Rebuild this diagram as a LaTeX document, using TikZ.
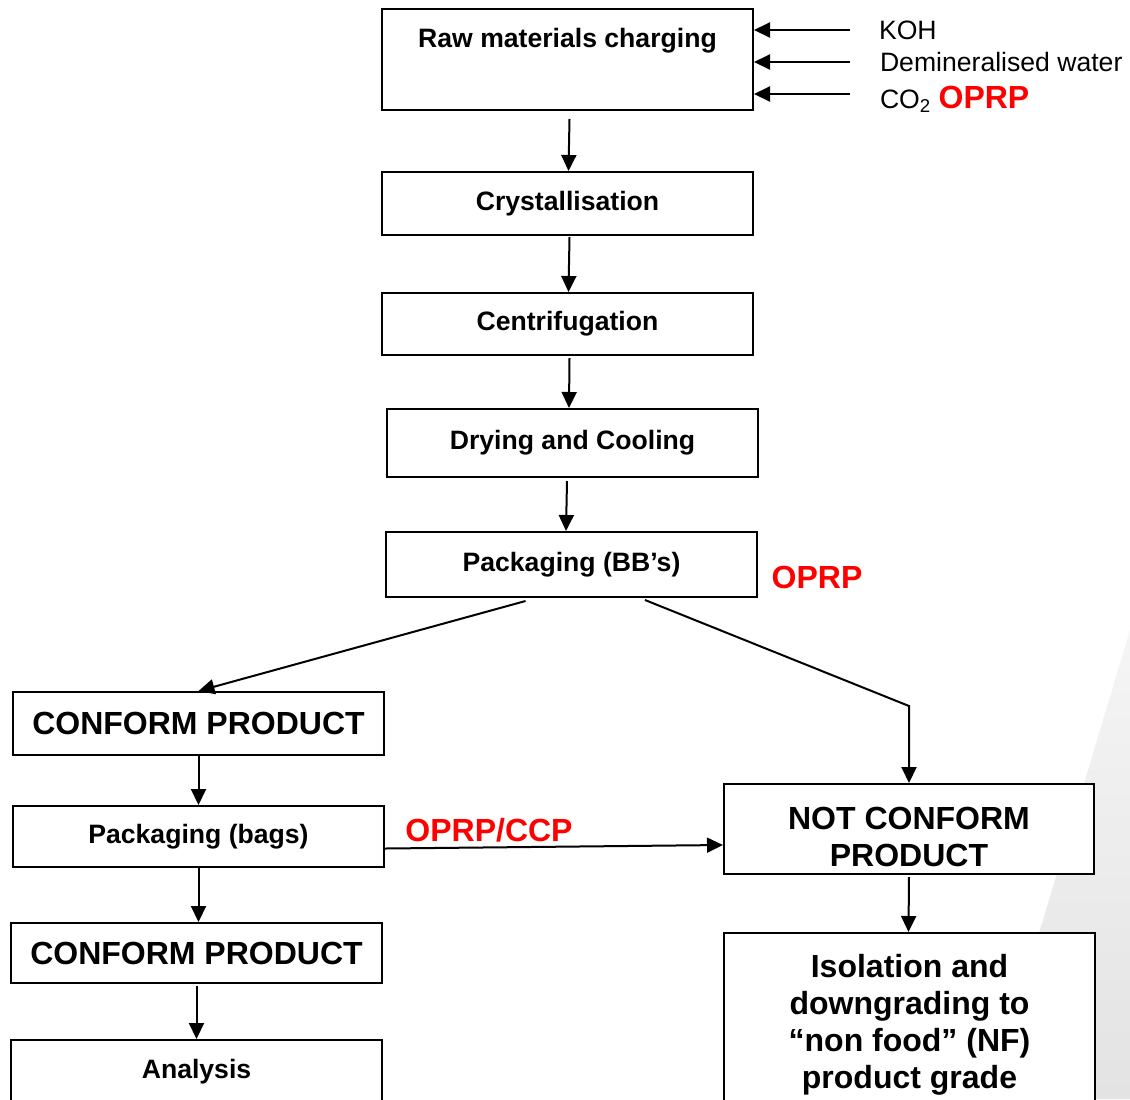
\documentclass[tikz,border=0pt]{standalone}
\usepackage{fontspec}
\setmainfont{Liberation Sans}
\usetikzlibrary{arrows.meta}

\definecolor{oprp}{RGB}{255,0,0}
\tikzset{
	box/.style={draw, fill=white, line width=1pt, inner sep=0pt, align=center, minimum width=185.5pt, font=\fontsize{13.3}{16}\selectfont\bfseries},
	bigbox/.style={box, font=\fontsize{16}{18.5}\selectfont\bfseries},
	flag/.style={text=oprp, inner sep=0pt, font=\fontsize{16}{18}\selectfont\bfseries},
	feed/.style={anchor=base west, inner sep=0pt, font=\fontsize{13.3}{16}\selectfont},
}

\begin{document}
\begin{tikzpicture}[x=0.5pt, y=-0.5pt, line width=1pt, arrows={-Triangle[length=8pt,width=7.5pt]}]
	\useasboundingbox (0,0) rectangle (1130,1099);
	\clip (0,0) rectangle (1130,1099);
	\shade[top color=black!4, middle color=black!10, bottom color=black!11] (1130,630) -- (1040,930) -- (990,1099) -- (1130,1099) -- cycle;

	\node [box, text height=19.25pt, text depth=31.25pt] (raw) at (567.5,59.5) {Raw materials charging};
	\node [box, minimum height=31.5pt] (cryst) at (567.5,203.5) {Crystallisation};
	\node [box, minimum height=31pt] (centr) at (567.5,324) {Centrifugation};
	\node [box, minimum height=34pt] (dry) at (572.5,443) {Drying and Cooling};
	\node [box, minimum height=32.5pt] (pack) at (571.5,564.5) {Packaging (BB’s)};
	\node [flag] (oprp1) at (817,577) {OPRP};

	\node [bigbox, minimum height=31.5pt] (conf1) at (198.5,723.5) {CONFORM PRODUCT};
	\node [box, minimum height=30.5pt] (bags) at (198.5,836.5) {Packaging (bags)};
	\node [bigbox, minimum height=30pt] (conf2) at (196.5,953) {CONFORM PRODUCT};
	\node [box, minimum height=32pt] (anal) at (196.5,1072) {Analysis};
	\node [flag] (oprp2) at (489,830) {OPRP/CCP};

	\node [bigbox, minimum width=185pt, minimum height=45pt] (notconf) at (909,829) {\rule{0pt}{19pt}NOT CONFORM\\PRODUCT};
	\node [bigbox, minimum width=185.5pt, minimum height=88.5pt] (isol) at (909.5,1021.5) {\rule{0pt}{15pt}Isolation and\\downgrading to\\“non food” (NF)\\product grade};

	% inputs
	\node [feed] (koh) at (878,39.5) {KOH};
	\node [feed] (water) at (879,71.5) {Demineralised water};
	\node [feed] (co2) at (879,108.5) {CO\textsubscript{2} {\color{oprp}\fontsize{16}{18}\selectfont\bfseries OPRP}};
	\coordinate (kohin) at (850,30);
	\coordinate (waterin) at (850,62);
	\coordinate (co2in) at (850,94);
	\draw (kohin) -- (kohin -| raw.east);
	\draw (waterin) -- (waterin -| raw.east);
	\draw (co2in) -- (co2in -| raw.east);

	\draw ([shift={(1pt,-4pt)}]raw.south) -- ([xshift=0.5pt]cryst.north);
	\draw ([shift={(1pt,-0.5pt)}]cryst.south) -- ([xshift=0.5pt]centr.north);
	\draw ([shift={(1pt,-1pt)}]centr.south) -- ([xshift=-1.75pt]dry.north);
	\draw ([shift={(-2.75pt,-1.5pt)}]dry.south) -- ([xshift=-2.75pt]pack.north);

	\coordinate (bend) at (909,706);
	\draw ([shift={(-23pt,-1.5pt)}]pack.south) -- (conf1.north);
	\draw ([shift={(36.75pt,-1pt)}]pack.south) -- (bend) -- (notconf.north);

	\draw (conf1.south) -- (bags.north);
	\draw (bags.south) -- (bags.south |- conf2.north);
	\draw ([yshift=-1pt]conf2.south) -- (anal.north);
	\draw ([yshift=-6pt]bags.east) -- ([yshift=-8pt]notconf.west);
	\draw ([yshift=-1pt]notconf.south) -- ([xshift=-0.5pt]isol.north);
\end{tikzpicture}
\end{document}
